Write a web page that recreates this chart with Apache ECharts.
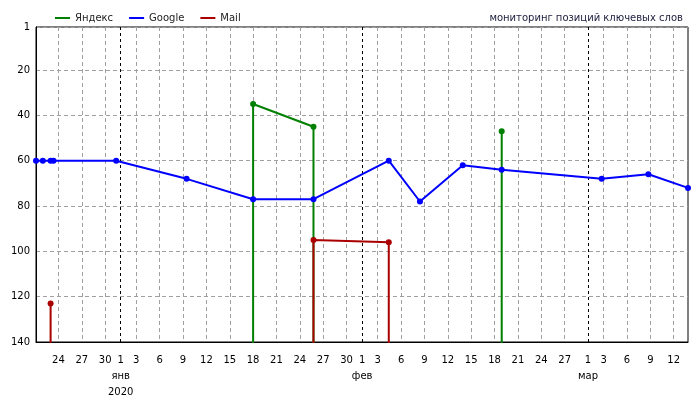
<!DOCTYPE html>
<html>
<head>
<meta charset="utf-8">
<script src="https://cdn.jsdelivr.net/npm/echarts@6/dist/echarts.min.js"></script>
<style>html,body{margin:0;background:#fff}#chart{width:700px;height:400px}</style>
</head>
<body>
<div id="chart"></div>
<script>
// позиция "не найдено" — ниже 140, обрезается сеткой
const NOT_FOUND = 200;

const googleDates = [
  '2019-12-21 03:00', '2019-12-22 00:00', '2019-12-23 00:00', '2019-12-23 09:00',
  '2019-12-31 10:00', '2020-01-09 11:00', '2020-01-18 00:00', '2020-01-25 18:00',
  '2020-02-04 10:00', '2020-02-08 10:00', '2020-02-13 22:00', '2020-02-18 22:00',
  '2020-03-02 18:00', '2020-03-08 18:00', '2020-03-13 20:00'
];
const googleRanks = [60, 60, 60, 60, 60, 68, 77, 77, 60, 78, 62, 64, 68, 66, 72];

const yandexDates = [
  '2020-01-18 00:00', '2020-01-18 00:00', '2020-01-25 18:00', '2020-01-25 18:00',
  '2020-02-18 22:00', '2020-02-18 22:00', '2020-02-18 22:00'
];
const yandexRanks = [NOT_FOUND, 35, 45, NOT_FOUND, NOT_FOUND, 47, NOT_FOUND];

const mailDates = [
  '2019-12-23 00:00', '2019-12-23 00:00', '2019-12-23 00:00',
  '2020-01-25 18:00', '2020-01-25 18:00', '2020-02-04 10:00', '2020-02-04 10:00'
];
const mailRanks = [NOT_FOUND, 123, NOT_FOUND, NOT_FOUND, 95, 96, NOT_FOUND];

const dayTicks = [
  '2019-12-24', '2019-12-27', '2019-12-30',
  '2020-01-03', '2020-01-06', '2020-01-09', '2020-01-12', '2020-01-15',
  '2020-01-18', '2020-01-21', '2020-01-24', '2020-01-27', '2020-01-30',
  '2020-02-03', '2020-02-06', '2020-02-09', '2020-02-12', '2020-02-15',
  '2020-02-18', '2020-02-21', '2020-02-24', '2020-02-27',
  '2020-03-03', '2020-03-06', '2020-03-09', '2020-03-12'
];
const monthStarts = ['2020-01-01', '2020-02-01', '2020-03-01'];
const monthNames = ['янв', 'фев', 'мар'];
const yearLabel = '2020';
const rankTicks = [1, 20, 40, 60, 80, 100, 120, 140];

const BASE = Date.UTC(2020, 0, 1);
const DAY = 86400000;

function toDay(s) {
  const iso = s.length > 10 ? s.replace(' ', 'T') + 'Z' : s;
  return (Date.parse(iso) - BASE) / DAY;
}

function pairs(dates, ranks) {
  return dates.map((d, i) => [toDay(d), ranks[i]]);
}

const xMin = toDay(googleDates[0]);
const xMax = toDay(googleDates[googleDates.length - 1]);
const labelDays = dayTicks.concat(monthStarts).map(toDay).sort((a, b) => a - b);

const myChart = echarts.init(document.getElementById('chart'));
myChart.setOption({
  animation: false,
  textStyle: { fontFamily: 'DejaVu Sans' },
  title: {
    text: 'мониторинг позиций ключевых слов',
    right: 12,
    top: 8,
    textStyle: { fontSize: 10, fontWeight: 'normal', color: '#1c1c3c' },
  },
  legend: {
    left: 50,
    top: 8,
    icon: 'rect',
    itemWidth: 15,
    itemHeight: 2,
    itemGap: 16,
    textStyle: { fontSize: 10, color: '#222' },
    data: ['Яндекс', 'Google', 'Mail'],
  },
  grid: {
    left: 36,
    right: 12,
    top: 27,
    bottom: 58,
    show: true,
    borderColor: '#000',
    borderWidth: 1,
  },
  xAxis: [
    {
      type: 'value',
      min: xMin,
      max: xMax,
      axisLine: { onZero: false, lineStyle: { color: '#000' } },
      axisTick: { show: false, customValues: dayTicks.map(toDay) },
      axisLabel: {
        customValues: labelDays,
        color: '#000',
        fontSize: 10,
        margin: 10,
        lineHeight: 16,
        formatter: (v) => {
          const d = new Date(BASE + Math.round(v) * DAY);
          const iso = d.toISOString().slice(0, 10);
          let text = String(d.getUTCDate());
          const idx = monthStarts.indexOf(iso);
          if (idx >= 0) text += '\n' + monthNames[idx];
          if (idx === 0) text += '\n' + yearLabel;
          return text;
        },
      },
      splitLine: { show: true, lineStyle: { color: '#a0a0a0', type: [4, 3] } },
    },
    {
      type: 'value',
      position: 'bottom',
      min: xMin,
      max: xMax,
      axisLine: { show: false, onZero: false },
      axisTick: { show: false, customValues: monthStarts.map(toDay) },
      axisLabel: { show: false },
      splitLine: { show: true, lineStyle: { color: '#000', type: [3, 3] } },
    },
  ],
  yAxis: {
    type: 'value',
    inverse: true,
    min: 1,
    max: 140,
    axisLine: { show: true, onZero: false, lineStyle: { color: '#000' } },
    axisTick: { show: false, customValues: rankTicks },
    axisLabel: { customValues: rankTicks, color: '#000', fontSize: 10, margin: 6 },
    splitLine: { show: true, lineStyle: { color: '#a0a0a0', type: [4, 3] } },
  },
  series: [
    {
      name: 'Яндекс',
      type: 'line',
      data: pairs(yandexDates, yandexRanks),
      color: '#008000',
      symbol: 'circle',
      symbolSize: 6,
      lineStyle: { width: 2 },
      clip: true,
    },
    {
      name: 'Google',
      type: 'line',
      data: pairs(googleDates, googleRanks),
      color: '#0000ff',
      symbol: 'circle',
      symbolSize: 6,
      lineStyle: { width: 2 },
      clip: true,
    },
    {
      name: 'Mail',
      type: 'line',
      data: pairs(mailDates, mailRanks),
      color: '#aa0000',
      symbol: 'circle',
      symbolSize: 6,
      lineStyle: { width: 2 },
      clip: true,
    },
  ],
});
</script>
</body>
</html>
